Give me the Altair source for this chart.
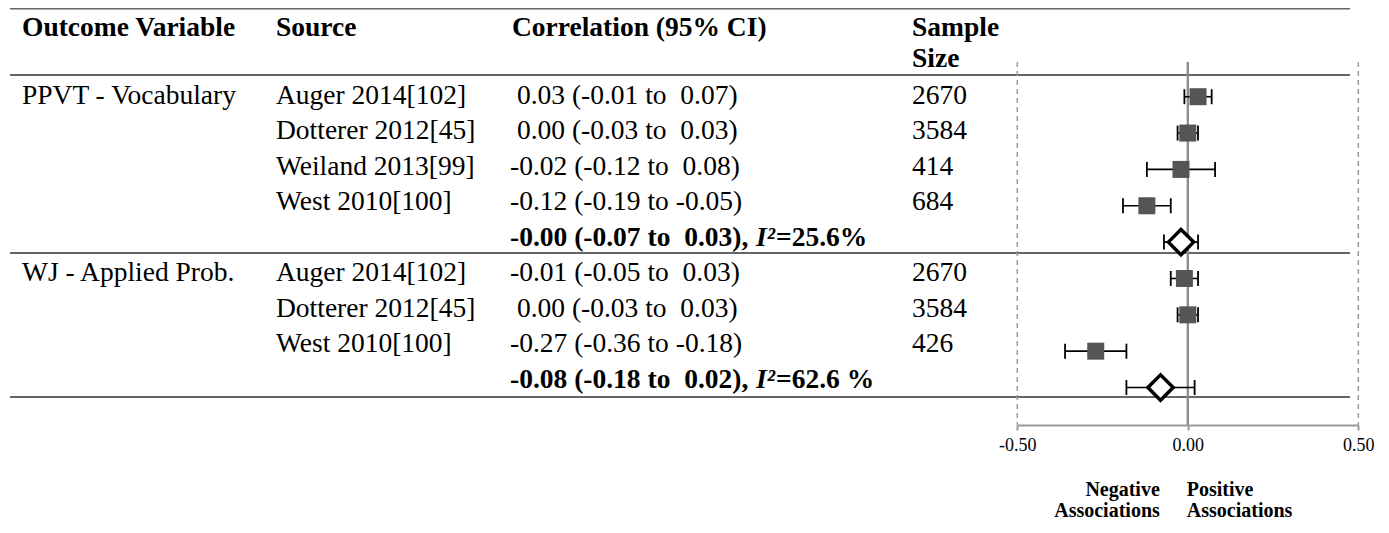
import altair as alt
import pandas as pd

FONT = "Liberation Serif"
FS = 27.5

# ---------------- data ----------------
header_labels = ["Outcome Variable", "Source", "Correlation (95% CI)", "Sample", "Size"]
header_cols = [0, 1, 2, 3, 3]
header_rows = [-0.92, -0.92, -0.92, -0.92, -0.04]

outcomes = ["PPVT - Vocabulary", "WJ - Applied Prob."]
outcome_rows = [1, 6]

sources = ["Auger 2014[102]", "Dotterer 2012[45]", "Weiland 2013[99]", "West 2010[100]",
           "Auger 2014[102]", "Dotterer 2012[45]", "West 2010[100]"]
study_rows = [1, 2, 3, 4, 6, 7, 8]
study_est = [0.03, 0.00, -0.02, -0.12, -0.01, 0.00, -0.27]
study_lo = [-0.01, -0.03, -0.12, -0.19, -0.05, -0.03, -0.36]
study_hi = [0.07, 0.03, 0.08, -0.05, 0.03, 0.03, -0.18]
sample_sizes = [2670, 3584, 414, 684, 2670, 3584, 426]

pooled_rows = [5, 9]
pooled_est = [-0.02, -0.08]
pooled_est_label = ["-0.00", "-0.08"]
pooled_lo = [-0.07, -0.18]
pooled_hi = [0.03, 0.02]
pooled_i2_label = ["=25.6%", "=62.6 %"]

axis_ticks = [-0.5, 0.0, 0.5]
ref_lines = [-0.5, 0.5]
assoc_neg = ["Negative", "Associations"]
assoc_pos = ["Positive", "Associations"]
assoc_rows = [11.81, 12.41]
sep_rows = [-1.462, 0.414, 5.428]
sep_bottom_rows = [9.484]


def nb(s):
    # keep leading / repeated spaces visible
    return "\u200b" + s.replace(" ", "\u00a0")


# ---------------- tables ----------------
hdr = pd.DataFrame({"label": header_labels, "col": header_cols, "row": header_rows})
out_df = pd.DataFrame({"label": outcomes, "row": outcome_rows})
src_df = pd.DataFrame({"label": sources, "row": study_rows})
corr_df = pd.DataFrame({
    "label": [nb(f"{e:5.2f} ({l:5.2f} to {h:5.2f})") for e, l, h in zip(study_est, study_lo, study_hi)],
    "row": study_rows,
})
n_df = pd.DataFrame({"label": [str(n) for n in sample_sizes], "row": study_rows})
pool_txt = pd.DataFrame({
    "pre": [nb(f"{e} ({l:5.2f} to {h:5.2f}),") for e, l, h in zip(pooled_est_label, pooled_lo, pooled_hi)],
    "i2": ["I\u00b2"] * len(pooled_rows),
    "post": [nb(s) for s in pooled_i2_label],
    "row": pooled_rows,
})
sep_df = pd.DataFrame({"row": sep_rows})
sepb_df = pd.DataFrame({"row": sep_bottom_rows})

forest = pd.DataFrame({
    "row": study_rows + pooled_rows,
    "est": study_est + pooled_est,
    "lo": study_lo + pooled_lo,
    "hi": study_hi + pooled_hi,
    "kind": ["study"] * len(study_rows) + ["pooled"] * len(pooled_rows),
})
ref_df = pd.DataFrame({"v": ref_lines})
neg_df = pd.DataFrame({"label": assoc_neg, "row": assoc_rows})
pos_df = pd.DataFrame({"label": assoc_pos, "row": assoc_rows})

# ---------------- scales ----------------
ys_text = alt.Scale(domain=[-1.389, 10.273], reverse=True, zero=False, nice=False)
ys_mark = alt.Scale(domain=[-1.358, 10.031], reverse=True, zero=False, nice=False)
xs = alt.Scale(domain=[-0.5, 0.5], range=[1009.3, 1350.3], zero=False, nice=False)
xaxis = alt.Axis(
    values=axis_ticks, title=None, grid=False,
    labelExpr="datum.value < 0 ? '-' + format(abs(datum.value), '.2f') : format(datum.value, '.2f')",
    domainColor="#9a9a9a", domainWidth=2, tickColor="#9a9a9a", tickWidth=2, tickSize=5,
    labelFont=FONT, labelFontSize=18, labelColor="black", labelPadding=6, labelFlush=False,
)

YT = alt.Y("row:Q", scale=ys_text, axis=None)
YM = alt.Y("row:Q", scale=ys_mark, axis=None)

COL_X = [14, 268, 502, 904]


def text_layer(df, x, field="label", weight="normal", style="normal"):
    return alt.Chart(df).mark_text(
        font=FONT, fontSize=FS, align="left", baseline="middle", color="black",
        fontWeight=weight, fontStyle=style,
    ).encode(x=alt.value(x), y=YT, text=f"{field}:N")


sep = alt.Chart(sep_df).mark_rule(color="#666666", strokeWidth=2).encode(
    x=alt.value(2), x2=alt.value(1342), y=YT)
sepb = alt.Chart(sepb_df).mark_rule(color="#333333", strokeWidth=1.5).encode(
    x=alt.value(2), x2=alt.value(1342), y=YT)

hdr_layers = [
    alt.Chart(hdr).transform_filter(alt.datum.col == k).mark_text(
        font=FONT, fontSize=FS, align="left", baseline="middle", color="black", fontWeight="bold",
    ).encode(x=alt.value(COL_X[k] + (2 if k == 2 else 0)), y=YT, text="label:N")
    for k in range(4)
]

table = alt.layer(
    sep, sepb, *hdr_layers,
    text_layer(out_df, COL_X[0]),
    text_layer(src_df, COL_X[1]),
    text_layer(corr_df, COL_X[2]),
    text_layer(n_df, COL_X[3]),
    text_layer(pool_txt, COL_X[2], field="pre", weight="bold"),
    text_layer(pool_txt, 748, field="i2", weight="bold", style="italic"),
    text_layer(pool_txt, 768, field="post", weight="bold"),
)

# ---------------- forest ----------------
ref = alt.Chart(ref_df).mark_rule(color="#9a9a9a", strokeDash=[5, 4], strokeWidth=1.5).encode(
    x=alt.X("v:Q", scale=xs, axis=xaxis),
    y=alt.Y(datum=0.045, scale=ys_mark, axis=None),
    y2=alt.Y2(datum=10.031),
)
zero = alt.Chart(ref_df).mark_rule(color="#8c8c8c", strokeWidth=2).encode(
    x=alt.X(datum=0, scale=xs, axis=xaxis),
    y=alt.Y(datum=0.045, scale=ys_mark, axis=None),
    y2=alt.Y2(datum=10.031),
)
ci = alt.Chart(forest).mark_rule(color="black", strokeWidth=1.6).encode(
    x=alt.X("lo:Q", scale=xs, axis=xaxis), x2="hi:Q", y=YM)
caps = alt.Chart(forest).transform_fold(["lo", "hi"], as_=["end", "v"]).mark_point(
    shape="M0,-1L0,1", size=225, stroke="black", strokeWidth=1.8, filled=False, opacity=1,
).encode(x=alt.X("v:Q", scale=xs, axis=xaxis), y=YM)
squares = alt.Chart(forest).transform_filter(alt.datum.kind == "study").mark_square(
    size=289, color="#555555", opacity=1,
).encode(x=alt.X("est:Q", scale=xs, axis=xaxis), y=YM)
diamonds = alt.Chart(forest).transform_filter(alt.datum.kind == "pooled").mark_point(
    shape="diamond", size=640, filled=True, fill="white", stroke="black", strokeWidth=3.5, opacity=1,
).encode(x=alt.X("est:Q", scale=xs, axis=xaxis), y=YM)
neg = alt.Chart(neg_df).mark_text(
    font=FONT, fontSize=20, fontWeight="bold", align="right", baseline="middle", color="black", dx=-28,
).encode(x=alt.X(datum=0, scale=xs, axis=xaxis), y=YM, text="label:N")
pos = alt.Chart(pos_df).mark_text(
    font=FONT, fontSize=20, fontWeight="bold", align="left", baseline="middle", color="black", dx=-1,
).encode(x=alt.X(datum=0, scale=xs, axis=xaxis), y=YM, text="label:N")

plot = alt.layer(ref, zero, ci, caps, squares, diamonds, neg, pos)

chart = alt.layer(table, plot).resolve_scale(y="independent").properties(
    width=1373, height=414, autosize="none",
    padding={"left": 0, "top": 3, "right": 0, "bottom": 98},
    background="white",
).configure_view(stroke=None)

chart.save("out.html", embed_options={"renderer": "svg", "actions": False})
